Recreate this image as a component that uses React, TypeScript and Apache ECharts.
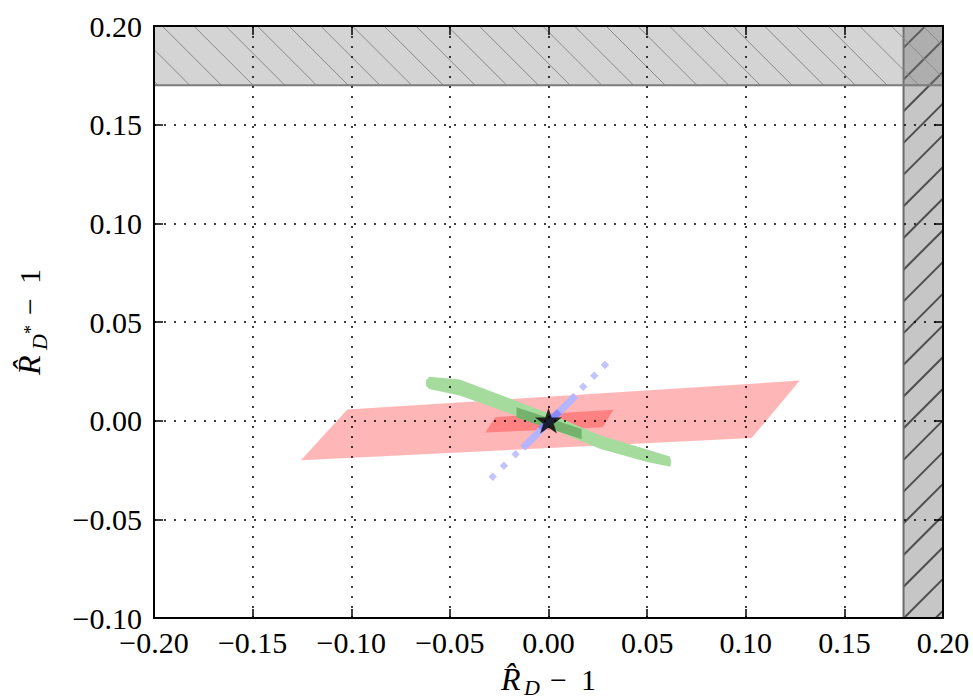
import React, { useEffect, useRef } from "react";
import * as echarts from "echarts";

// Axis ranges / ticks
const X_MIN = -0.2;
const X_MAX = 0.2;
const Y_MIN = -0.1;
const Y_MAX = 0.2;
const TICK_STEP = 0.05;

// Excluded (hatched) regions: [x0, y0, x1, y1, kind]
const excludedRight = [0.18, -0.1, 0.2, 0.2, 1];
const excludedTop = [-0.2, 0.17, 0.2, 0.2, 0];

// Allowed regions (polygon vertices, data coords)
const redOuter = [
  [-0.1255, -0.02],
  [-0.102, 0.0056],
  [0.1274, 0.0203],
  [0.103, -0.0088],
];
const redInner = [
  [-0.032, -0.006],
  [-0.0269, 0.0018],
  [0.033, 0.0055],
  [0.0275, -0.0033],
];
const greenOuter = [
  [-0.062, 0.0205],
  [-0.0605, 0.0222],
  [-0.045, 0.0208],
  [0.0, 0.0038],
  [0.026, -0.0074],
  [0.05, -0.0146],
  [0.0615, -0.0182],
  [0.0622, -0.0205],
  [0.0618, -0.0234],
  [0.05, -0.021],
  [0.026, -0.0142],
  [0.0, -0.0035],
  [-0.045, 0.0128],
  [-0.0605, 0.016],
  [-0.0622, 0.0178],
];
const greenInner = [
  [-0.0162, 0.0068],
  [0.0168, -0.0042],
  [0.0168, -0.0094],
  [-0.0162, 0.0016],
];
const blueSolid = [
  [-0.013, -0.0138],
  [0.0138, 0.0128],
];
const blueCore = [
  [-0.004, -0.0045],
  [0.0055, 0.0045],
];
const blueDots = [
  [-0.0283, -0.0284],
  [-0.0226, -0.0228],
  [-0.0167, -0.017],
  [0.0176, 0.0172],
  [0.0232, 0.0228],
  [0.0286, 0.0282],
];
const bestFit = [[0.0, 0.0]];

const SERIF = "Liberation Serif";
const STAR =
  "path://M50,0 L61.2,34.5 L97.6,34.5 L68.2,55.9 L79.4,90.5 L50,69.1 L20.6,90.5 L31.8,55.9 L2.4,34.5 L38.8,34.5 Z";

const fmt = (v: number) => {
  const r = Math.round(v * 100) / 100;
  return (r < -1e-9 ? "\u2212" : "") + Math.abs(r).toFixed(2);
};

function polySeries(name: string, pts: number[][], color: string) {
  return {
    type: "custom",
    name,
    data: pts,
    clip: true,
    silent: true,
    encode: { x: 0, y: 1 },
    renderItem: (params: any, api: any) => {
      if (params.dataIndex !== 0) return null;
      const points = pts.map((p) => api.coord(p));
      return { type: "polygon", shape: { points }, style: { fill: color } };
    },
  };
}

function bandRender(params: any, api: any) {
  const tl = api.coord([api.value(0), api.value(3)]);
  const br = api.coord([api.value(2), api.value(1)]);
  const kind = api.value(4);
  const x0 = tl[0], y0 = tl[1], x1 = br[0], y1 = br[1];
  const children: any[] = [];
  const step = 31.7;
  if (kind === 0) {
    children.push({
      type: "rect",
      shape: { x: x0, y: y0, width: x1 - x0, height: y1 - y0 },
      style: { fill: "rgba(128,128,128,0.34)" },
    });
    const anchor = x0 + 4 - y1;
    const cmin = x0 - y1, cmax = x1 - y0;
    let c = anchor + Math.ceil((cmin - anchor) / step) * step;
    for (; c <= cmax; c += step) {
      const a = Math.max(x0, y0 + c), b = Math.min(x1, y1 + c);
      if (b > a)
        children.push({
          type: "line",
          shape: { x1: a, y1: a - c, x2: b, y2: b - c },
          style: { stroke: "#8a8a8a", lineWidth: 1 },
        });
    }
    children.push({
      type: "line",
      shape: { x1: x0, y1: y1, x2: x1, y2: y1 },
      style: { stroke: "#7c7c7c", lineWidth: 2 },
    });
  } else {
    children.push({
      type: "rect",
      shape: { x: x0, y: y0, width: x1 - x0, height: y1 - y0 },
      style: { fill: "rgba(128,128,128,0.45)" },
    });
    const anchor = x0 + y1 - 31.3;
    const cmin = x0 + y0, cmax = x1 + y1;
    let c = anchor + Math.ceil((cmin - anchor) / step) * step;
    for (; c <= cmax; c += step) {
      const a = Math.max(x0, c - y1), b = Math.min(x1, c - y0);
      if (b > a)
        children.push({
          type: "line",
          shape: { x1: a, y1: c - a, x2: b, y2: c - b },
          style: { stroke: "#4e4e4e", lineWidth: 2 },
        });
    }
    children.push({
      type: "line",
      shape: { x1: x0, y1: y0, x2: x0, y2: y1 },
      style: { stroke: "#6c6c6c", lineWidth: 2 },
    });
  }
  return { type: "group", children };
}

function txt(text: string, x: number, baseline: number, fs: number, italic = false) {
  return {
    type: "text",
    x,
    y: baseline - 0.34 * fs,
    style: {
      text,
      fontFamily: SERIF,
      fontSize: fs,
      fontStyle: italic ? "italic" : "normal",
      fill: "#000",
      align: "left",
      verticalAlign: "middle",
    },
  };
}

const axisCommon = (pos: string, labels: boolean, split: boolean) => ({
  type: "value",
  position: pos,
  z: 10,
  interval: TICK_STEP,
  axisLine: { show: true, onZero: false, lineStyle: { color: "#000", width: 2 } },
  axisTick: { show: true, inside: true, length: 9, lineStyle: { color: "#000", width: 1.5 } },
  axisLabel: labels
    ? {
        show: true,
        fontFamily: SERIF,
        fontSize: 30,
        color: "#000",
        formatter: fmt,
        showMinLabel: true,
        showMaxLabel: true,
      }
    : { show: false },
  splitLine: split
    ? { show: true, lineStyle: { color: "#000", width: 1.5, type: [2, 8] } }
    : { show: false },
});

export default function App() {
  const ref = useRef<HTMLDivElement>(null);
  useEffect(() => {
    document.body.style.margin = "0";
    const chart = echarts.init(ref.current!, undefined, { renderer: "svg" });
    const xb: any = { ...axisCommon("bottom", true, true), min: X_MIN, max: X_MAX };
    xb.axisLabel.margin = 9;
    const xt: any = { ...axisCommon("top", false, false), min: X_MIN, max: X_MAX };
    const yl: any = { ...axisCommon("left", true, true), min: Y_MIN, max: Y_MAX };
    yl.axisLabel.margin = 12;
    const yr: any = { ...axisCommon("right", false, false), min: Y_MIN, max: Y_MAX };

    const option: any = {
      animation: false,
      backgroundColor: "#fff",
      grid: { left: 154, right: 30, top: 26, bottom: 82, outerBoundsMode: "none" },
      xAxis: [xb, xt],
      yAxis: [yl, yr],
      series: [
        {
          type: "custom",
          name: "excluded",
          data: [excludedRight, excludedTop],
          clip: true,
          silent: true,
          encode: { x: [0, 2], y: [1, 3] },
          renderItem: bandRender,
        },
        polySeries("redOuter", redOuter, "#ffb6b6"),
        polySeries("redInner", redInner, "#ff8282"),
        polySeries("greenOuter", greenOuter, "#a5dc9e"),
        polySeries("greenInner", greenInner, "#74b26e"),
        {
          type: "line",
          name: "blueSolid",
          data: blueSolid,
          showSymbol: false,
          silent: true,
          lineStyle: { color: "#b4b4ff", width: 7, cap: "butt" },
        },
        {
          type: "line",
          name: "blueCore",
          data: blueCore,
          showSymbol: false,
          silent: true,
          lineStyle: { color: "#8a8aff", width: 7, cap: "butt" },
        },
        {
          type: "scatter",
          name: "blueDots",
          data: blueDots,
          symbol: "diamond",
          symbolSize: 8.5,
          silent: true,
          itemStyle: { color: "#b4b4ff" },
        },
        {
          type: "scatter",
          name: "best",
          data: bestFit,
          symbol: STAR,
          symbolSize: 27,
          symbolKeepAspect: true,
          z: 11,
          silent: true,
          itemStyle: { color: "#000" },
        },
      ],
      graphic: [
        {
          type: "group",
          z: 20,
          children: [
            txt("R\u0302", 501, 690, 32, true),
            txt("D", 524, 695, 22, true),
            txt("\u2212", 550, 690, 30),
            txt("1", 581, 690, 30),
          ],
        },
        {
          type: "group",
          z: 20,
          x: 40,
          y: 375,
          rotation: Math.PI / 2,
          children: [
            txt("R\u0302", 0, 0, 32, true),
            txt("D", 25, 7, 22, true),
            txt("*", 41, -3, 18),
            txt("\u2212", 60, 0, 30),
            txt("1", 91, 0, 30),
          ],
        },
      ],
    };
    chart.setOption(option);
    return () => chart.dispose();
  }, []);
  return <div ref={ref} style={{ width: 973, height: 700 }} />;
}
